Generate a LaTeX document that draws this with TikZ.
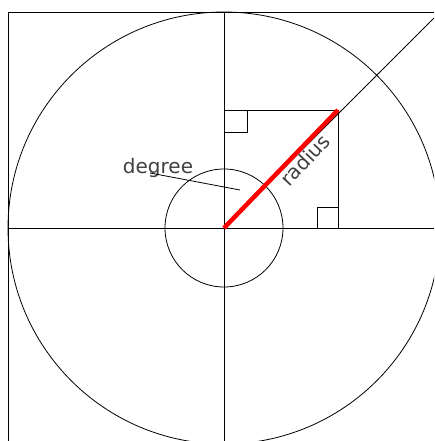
\documentclass[tikz,border=0pt]{standalone}
\usepackage{fontspec}
\setmainfont{DejaVu Sans}
\begin{document}
\begin{tikzpicture}[x=1pt, y=-1pt, line width=0.8pt,
                    lbl/.style={text=black!75, font=\fontsize{20}{22}\selectfont, inner sep=0pt}]
  \useasboundingbox (0,0) rectangle (434,441);
  \clip (0,0) rectangle (434,441);
  \coordinate (O) at (224,228);
  \coordinate (C) at (338,110);
  \coordinate (degtip) at (240,190);
  \draw (8,441) -- (8,12) -- (434,12);
  \draw (8,228) -- (434,228);
  \draw (224,12) -- (224,441);
  \draw (O) circle (216);
  \draw (O) circle (59);
  \draw (O) -- (434,18);
  \draw (224,110) -- (C) -- (338,228);
  \draw (224,132) -| (247,110);
  \draw (317,228) |- (338,207);
  \draw[red, line width=4.5pt] (O) -- (C);
  \node[lbl] (deg) at (158,168) {degree};
  \draw (deg) ++(-8,5) -- (degtip);
  \node[lbl, rotate=47] (rad) at (305,160) {radius};
\end{tikzpicture}
\end{document}
